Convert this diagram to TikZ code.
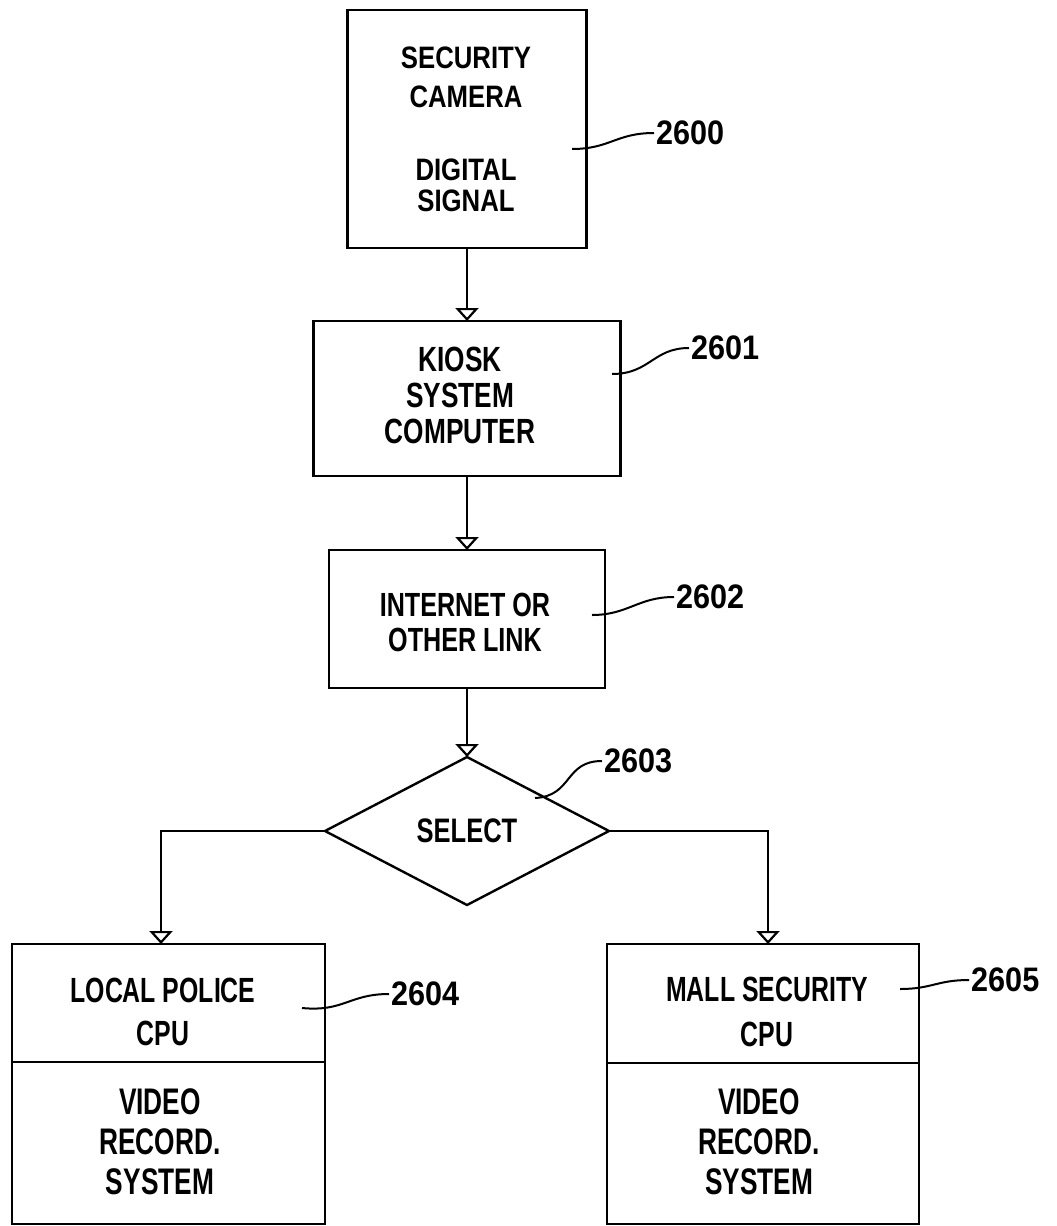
\documentclass[tikz,border=0pt]{standalone}
\usepackage{fontspec}
\usetikzlibrary{arrows.meta,shapes.geometric}
% condensed sans faces for the block texts and the reference numerals
\newfontfamily\fwide{Liberation Sans Bold}[FakeStretch=0.83]
\newfontfamily\fmid{Liberation Sans Bold}[FakeStretch=0.75]
\newfontfamily\fnarrow{Liberation Sans Bold}[FakeStretch=0.71]
\newfontfamily\fnum{Liberation Sans Bold}[FakeStretch=0.9]

\begin{document}
\begin{tikzpicture}[x=1pt,y=-1pt,
  box/.style={draw, line width=2.6pt, inner sep=0pt, outer sep=0pt},
  sel/.style={draw, shape=diamond, line width=2.4pt, inner sep=0pt, outer sep=0pt},
  txt/.style={align=center, inner sep=0pt},
  num/.style={anchor=west, inner sep=2pt, font=\fnum\fontsize{34}{40}\selectfont},
  flow/.style={line width=2.4pt, -{Triangle[open, width=23pt, length=13pt, line width=2.2pt]}},
  lead/.style={line width=2pt}]
\useasboundingbox (0,0) rectangle (1057,1226);

% blocks
\node[box, minimum width=239pt, minimum height=238pt] (cam) at (467,129) {};
\node[box, minimum width=307pt, minimum height=155pt] (kiosk) at (467,398.5) {};
\node[box, minimum width=276pt, minimum height=138pt] (link) at (467,619) {};
\node[sel, minimum width=284pt, minimum height=148pt,
      font=\fmid\fontsize{34}{40}\selectfont] (select) at (467,831) {SELECT};
\node[box, minimum width=313pt, minimum height=118pt] (police) at (168.5,1003) {};
\node[box, minimum width=313pt, minimum height=162pt, anchor=north] (policevr) at (police.south) {};
\node[box, minimum width=312pt, minimum height=119pt] (mall) at (763,1003.5) {};
\node[box, minimum width=312pt, minimum height=161pt, anchor=north] (mallvr) at (mall.south) {};

% block texts
\node[txt, font=\fwide\fontsize{31}{39}\selectfont] (tcam) at (466,77.5) {SECURITY\\CAMERA};
\node[txt, font=\fwide\fontsize{31}{31}\selectfont] (tsig) at (466,185.5) {DIGITAL\\SIGNAL};
\node[txt, font=\fmid\fontsize{35}{36}\selectfont] (tkiosk) at (460,395) {KIOSK\\SYSTEM\\COMPUTER};
\node[txt, font=\fmid\fontsize{33.5}{35}\selectfont] (tlink) at (465,622.5) {INTERNET OR\\OTHER LINK};
\node[txt, font=\fnarrow\fontsize{35}{43}\selectfont] (tpolice) at (163,1011.5) {LOCAL POLICE\\CPU};
\node[txt, font=\fnarrow\fontsize{35}{45}\selectfont] (tmall) at (767,1011.5) {MALL SECURITY\\CPU};
\node[txt, font=\fnarrow\fontsize{37}{40}\selectfont] (tpvr) at (160,1142) {VIDEO\\RECORD.\\SYSTEM};
\node[txt, font=\fnarrow\fontsize{37}{40}\selectfont] (tmvr) at (759,1142) {VIDEO\\RECORD.\\SYSTEM};

% flow connectors
\draw[flow] (cam.south) -- (kiosk.north);
\draw[flow] (kiosk.south) -- (link.north);
\draw[flow] (link.south) -- (select.north);
\draw[flow] (select.west) -| ([xshift=-7.5pt]police.north);
\draw[flow] (select.east) -| ([xshift=5pt]mall.north);

% reference numerals and their leaders
\node[num] (n2600) at (654,133) {2600};
\node[num] (n2601) at (689,348) {2601};
\node[num] (n2602) at (674,597) {2602};
\node[num] (n2603) at (602,761) {2603};
\node[num] (n2604) at (389,994) {2604};
\node[num] (n2605) at (969,980) {2605};

\coordinate (l2600) at (572,149);
\coordinate (l2601) at (612,374);
\coordinate (l2602) at (592,615);
\coordinate (l2603) at (535,798);
\coordinate (l2604) at (302,1008);
\coordinate (l2605) at (900,989);

\draw[lead] (l2600) .. controls +(38,0) and +(-38,0) .. (n2600.west);
\draw[lead] (l2601) .. controls +(38,0) and +(-36,0) .. (n2601.west);
\draw[lead] (l2602) .. controls +(36,0) and +(-36,0) .. (n2602.west);
\draw[lead] (l2603) .. controls +(38,-2) and +(-38,0) .. (n2603.west);
\draw[lead] (l2604) .. controls +(42,4) and +(-40,0) .. (n2604.west);
\draw[lead] (l2605) .. controls +(32,0) and +(-32,0) .. (n2605.west);
\end{tikzpicture}
\end{document}
